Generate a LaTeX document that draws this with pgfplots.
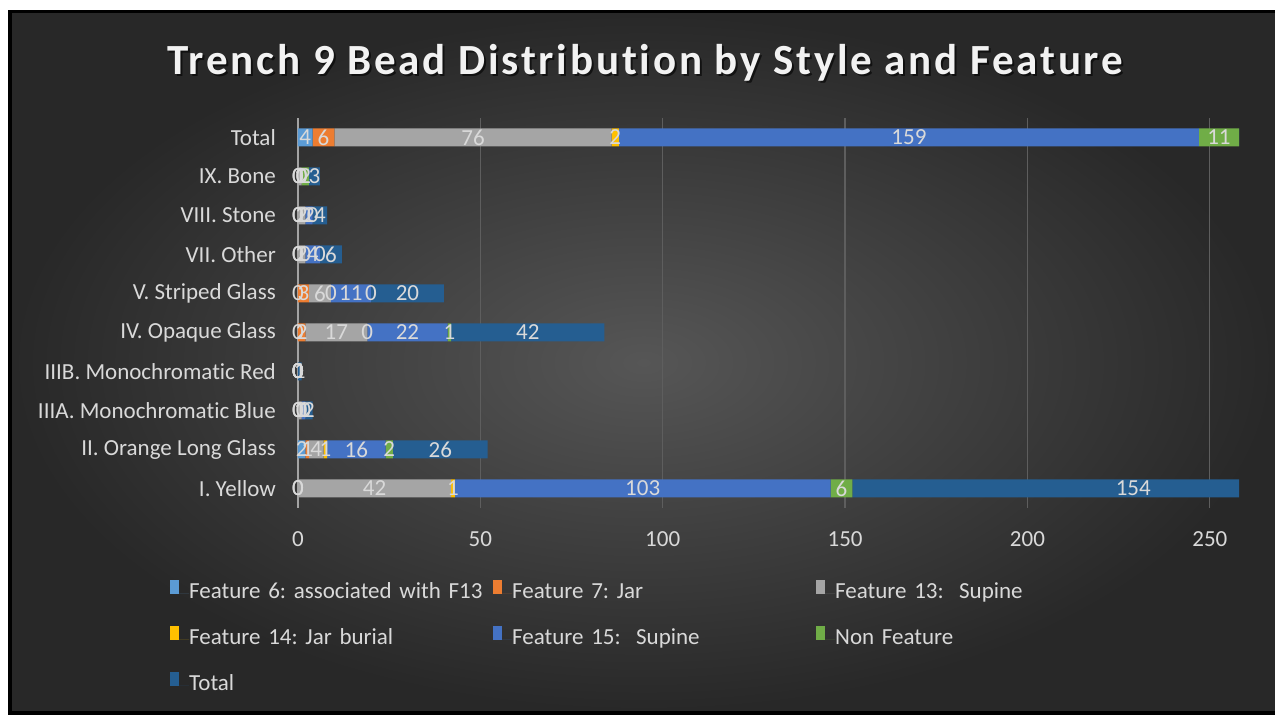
\documentclass[border=0pt]{standalone}
\usepackage{pgfplots}
\pgfplotsset{compat=1.18}
\usepackage{pgfplotstable}
\usepackage{fontspec}
\setmainfont{Carlito}[Ligatures={NoCommon,NoContextual}]
\frenchspacing
\definecolor{cF6}{HTML}{5B9BD5}
\definecolor{cF7}{HTML}{ED7D31}
\definecolor{cF13}{HTML}{A5A5A5}
\definecolor{cF14}{HTML}{FFC000}
\definecolor{cF15}{HTML}{4472C4}
\definecolor{cNon}{HTML}{70AD47}
\definecolor{cTot}{HTML}{255E91}
\definecolor{lab}{HTML}{D9D9D9}
\definecolor{gridc}{HTML}{5E5E5E}
\definecolor{bgin}{HTML}{565656}
\definecolor{bgout}{HTML}{282828}

\pgfplotstableread{
idx F6 F7 F13 F14 F15 Non Tot
0 0 0 42 1 103 6 154
1 2 1 4 1 16 2 26
2 0 0 1 0 1 0 2
3 0 0 0 0 0 0 1
4 0 2 17 0 22 1 42
5 0 3 6 0 11 0 20
6 0 0 2 0 4 0 6
7 0 0 2 0 2 0 4
8 0 0 1 0 0 2 3
9 4 6 76 2 159 11 258
}\datatable

\pgfplotsset{
  seg/.style={fill=#1, draw=none,
    legend image code/.code={\path (0pt,0pt) -- (19pt,0pt);\fill[#1] (0pt,0pt) rectangle (9pt,14pt);}},
  common/.style={
    at={(298pt,207pt)}, anchor=south west,
    scale only axis, width=941pt, height=390pt,
    xmin=0, xmax=258, ymin=-0.5, ymax=9.5,
  },
  lbl/.style={draw=none, mark=none, forget plot, nodes near coords},
}

\begin{document}
\begin{tikzpicture}[x=1pt,y=1pt]
\useasboundingbox (0,0) rectangle (1275,715);
\fill[white] (0,0) rectangle (1275,715);
\fill[black] (8,0) rectangle (1275,705);
\shade[inner color=bgin, outer color=bgout] (12,4) rectangle (1275,701);
\node[text=black, opacity=0.6] at (647,650) {\fontsize{43}{45}\selectfont\addfontfeatures{LetterSpace=6.5}\bfseries Trench 9 Bead Distribution by Style and Feature};
\node[text=white!95!black] at (645,652) {\fontsize{43}{45}\selectfont\addfontfeatures{LetterSpace=6.5}\bfseries Trench 9 Bead Distribution by Style and Feature};
\begin{axis}[
  common,
  xbar stacked, bar width=18pt,
  axis lines*=left,
  x axis line style={draw=none},
  y axis line style={draw=lab!75!black, line width=1.5pt},
  xtick={0,50,...,250},
  ytick={0,...,9},
  yticklabels={I. Yellow, II. Orange Long Glass, IIIA. Monochromatic Blue, IIIB. Monochromatic Red, IV. Opaque Glass, V. Striped Glass, VII. Other, VIII. Stone, IX. Bone, Total},
  tick style={draw=none},
  xmajorgrids, grid style={gridc, line width=1.3pt},
  /pgf/number format/assume math mode=true,
  ticklabel style={font=\fontsize{23}{23}\selectfont, text=lab},
  yticklabel style={inner xsep=0pt, xshift=-22pt},
  xticklabel style={anchor=north, inner sep=0pt, yshift=-23pt},
  legend columns=3,
  legend style={at={(-0.136,-0.184)}, anchor=north west, draw=none, fill=none,
     inner sep=0pt, font=\fontsize{23}{23}\selectfont, text=lab,
     column sep=0pt, row sep=23pt,
     nodes={text width=304pt, inner xsep=0pt, inner ysep=0pt, text height=14pt, text depth=4pt, align=left}},
]
\addplot[seg=cF6] table[x=F6, y=idx] {\datatable};
\addlegendentry{Feature 6: associated with F13}
\addplot[seg=cF7] table[x=F7, y=idx] {\datatable};
\addlegendentry{Feature 7: Jar}
\addplot[seg=cF13] table[x=F13, y=idx] {\datatable};
\addlegendentry{Feature 13:\ \ Supine}
\addplot[seg=cF14] table[x=F14, y=idx] {\datatable};
\addlegendentry{Feature 14: Jar burial}
\addplot[seg=cF15] table[x=F15, y=idx] {\datatable};
\addlegendentry{Feature 15:\ \ Supine}
\addplot[seg=cNon] table[x=Non, y=idx] {\datatable};
\addlegendentry{Non Feature}
\addplot[seg=cTot] table[x=Tot, y=idx] {\datatable};
\addlegendentry{Total}
\end{axis}
\begin{axis}[
  common, hide axis,
  point meta=explicit,
  /pgf/number format/assume math mode=true,
  every node near coord/.append style={anchor=center, inner sep=0pt,
     font=\fontsize{23}{23}\selectfont, text=lab},
]
\addplot[lbl] table[x expr={0.5*\thisrow{F6}}, y=idx, meta=F6] {\datatable};
\addplot[lbl] table[x expr={\thisrow{F6}+0.5*\thisrow{F7}}, y=idx, meta=F7] {\datatable};
\addplot[lbl] table[x expr={\thisrow{F6}+\thisrow{F7}+0.5*\thisrow{F13}}, y=idx, meta=F13] {\datatable};
\addplot[lbl] table[x expr={\thisrow{F6}+\thisrow{F7}+\thisrow{F13}+0.5*\thisrow{F14}}, y=idx, meta=F14] {\datatable};
\addplot[lbl] table[x expr={\thisrow{F6}+\thisrow{F7}+\thisrow{F13}+\thisrow{F14}+0.5*\thisrow{F15}}, y=idx, meta=F15] {\datatable};
\addplot[lbl] table[x expr={\thisrow{F6}+\thisrow{F7}+\thisrow{F13}+\thisrow{F14}+\thisrow{F15}+0.5*\thisrow{Non}}, y=idx, meta=Non] {\datatable};
\addplot[lbl] table[x expr={\thisrow{F6}+\thisrow{F7}+\thisrow{F13}+\thisrow{F14}+\thisrow{F15}+\thisrow{Non}+0.5*\thisrow{Tot}}, y=idx, meta=Tot] {\datatable};
\end{axis}
\end{tikzpicture}
\end{document}
